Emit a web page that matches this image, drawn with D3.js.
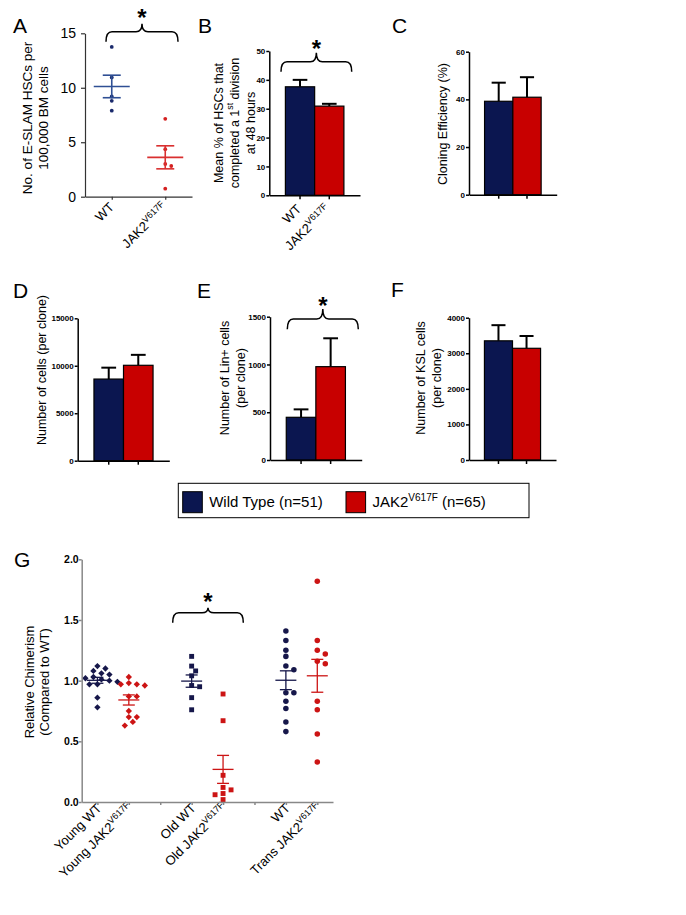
<!DOCTYPE html>
<html>
<head>
<meta charset="utf-8">
<script src="https://cdn.jsdelivr.net/npm/d3@7"></script>
<style>
	body { margin: 0; background: #fff; }
	text { font-family: 'Liberation Sans', Arial, sans-serif; fill: #000; }
</style>
</head>
<body>
<div id="chart"></div>
<script>
// groups for panels A-F
const groupsAB = ['WT', 'JAK2']

// A: E-SLAM HSCs per 100,000 BM cells (individual mice)
const eslamWT = [13.75, 10.95, 9.2, 8.8, 7.9]
const eslamJAK2 = [7.15, 4.36, 3.0, 2.82, 0.74]

// B: % HSCs completing 1st division at 48 h
const divisionMean = [37.6, 30.9]
const divisionErr = [2.4, 0.8]

// C: cloning efficiency (%)
const cloningMean = [39.2, 40.9]
const cloningErr = [7.8, 8.4]

// D: cells per clone
const cellsMean = [8600, 10050]
const cellsErr = [1200, 1100]

// E: Lin+ cells per clone
const linMean = [447, 977]
const linErr = [83, 297]

// F: KSL cells per clone
const kslMean = [3350, 3140]
const kslErr = [440, 345]

// G: relative chimerism
const gCategories = ['Young WT', 'Young JAK2', 'gap1', 'Old WT', 'Old JAK2', 'gap2', 'WT', 'Trans JAK2']
const youngWT = [1.12, 1.10, 1.08, 1.06, 1.05, 1.03, 1.02, 1.01, 1.00, 0.99, 0.97, 0.97, 0.86, 0.78]
const youngJAK2 = [1.03, 0.98, 0.97, 0.97, 0.96, 0.87, 0.87, 0.75, 0.70, 0.70, 0.66, 0.63]
const oldWT = [1.20, 1.12, 1.08, 1.04, 0.96, 0.95, 0.86, 0.76]
const oldJAK2 = [0.89, 0.67, 0.22, 0.12, 0.10, 0.07, 0.06, 0.02]
const transWT = [1.41, 1.33, 1.25, 1.20, 1.12, 1.09, 0.90, 0.90, 0.83, 0.77, 0.66, 0.58]
const transJAK2 = [1.82, 1.33, 1.25, 1.22, 1.16, 1.14, 0.83, 0.76, 0.56, 0.33]

const navy = '#0b1650'
const red = '#c80000'
const barColors = [navy, red]
const FONT = "'Liberation Sans', Arial, sans-serif"

const svg = d3.select('#chart').append('svg').attr('width', 686).attr('height', 915)
svg.append('rect').attr('width', 686).attr('height', 915).attr('fill', '#fff')

const sup = (s) => ({ sup: s })
const JAK2 = ['JAK2', sup('V617F')]

function richText(sel, parts, supSize) {
	let shift = 0
	parts.forEach((p) => {
		if (typeof p === 'string') {
			sel.append('tspan').attr('dy', shift).text(p)
			shift = 0
		} else {
			shift = supSize * 0.55
			sel.append('tspan').attr('font-size', supSize).attr('dy', -shift).text(p.sup)
		}
	})
}

function panelLabel(t, x, y) {
	svg.append('text').attr('x', x).attr('y', y).attr('font-size', 21).text(t)
}

// rotated multi-line axis title, one centre x per line
function yTitle(lines, xs, cy, fs) {
	lines.forEach((parts, i) => {
		const t = svg
			.append('text')
			.attr('transform', `translate(${xs[i]},${cy}) rotate(-90)`)
			.attr('text-anchor', 'middle')
			.attr('dominant-baseline', 'central')
			.attr('font-size', fs)
		richText(t, parts, fs * 0.7)
	})
}

function rotLabel(x, y, parts, fs) {
	const t = svg
		.append('text')
		.attr('transform', `translate(${x},${y}) rotate(-45)`)
		.attr('text-anchor', 'end')
		.attr('font-size', fs)
	richText(t, parts, fs * 0.7)
}

function bracket(x1, x2, yTop, yEnd, peak, starY) {
	const xm = (x1 + x2) / 2
	const r = 6
	svg
		.append('path')
		.attr(
			'd',
			`M${x1},${yEnd} Q${x1},${yTop} ${x1 + r},${yTop} L${xm - r},${yTop} Q${xm},${yTop} ${xm},${yTop - peak}` +
				` Q${xm},${yTop} ${xm + r},${yTop} L${x2 - r},${yTop} Q${x2},${yTop} ${x2},${yEnd}`
		)
		.attr('fill', 'none')
		.attr('stroke', '#000')
		.attr('stroke-width', 1.5)
	svg
		.append('text')
		.attr('x', xm)
		.attr('y', starY + 13)
		.attr('text-anchor', 'middle')
		.attr('font-size', 24)
		.attr('font-weight', 'bold')
		.text('*')
}

function styleAxis(g, color, width) {
	g.selectAll('path, line').attr('stroke', color).attr('stroke-width', width)
}

function swarm(values, y, minDist, step) {
	const placed = []
	return values.map((v) => {
		const py = y(v)
		let dx = 0
		for (let i = 0; i < 40; i++) {
			const m = Math.ceil(i / 2)
			dx = (i % 2 ? m : -m) * step
			if (placed.every((p) => Math.hypot(dx - p.dx, py - p.py) >= minDist)) break
		}
		placed.push({ dx, py })
		return { v, dx, py }
	})
}

// mean line with SEM whiskers
function errBars(cx, vals, y, halfMean, halfCap, color, w) {
	const m = d3.mean(vals)
	const sem = d3.deviation(vals) / Math.sqrt(vals.length)
	const ln = (x1, y1, x2, y2) =>
		svg.append('line').attr('x1', x1).attr('y1', y1).attr('x2', x2).attr('y2', y2).attr('stroke', color).attr('stroke-width', w)
	ln(cx - halfMean, y(m), cx + halfMean, y(m))
	ln(cx, y(m + sem), cx, y(m - sem))
	ln(cx - halfCap, y(m + sem), cx + halfCap, y(m + sem))
	ln(cx - halfCap, y(m - sem), cx + halfCap, y(m - sem))
}

function barPanel(o) {
	const x = d3.scaleBand().domain(groupsAB).range([o.x0, o.x1]).paddingInner(0).paddingOuter(0.55)
	const y = d3.scaleLinear().domain([0, o.max]).range([o.yBot, o.yTop])

	const g = svg.append('g')
	const cap = x.bandwidth() * 0.25
	const cx = (i) => x(groupsAB[i]) + x.bandwidth() / 2
	g.selectAll('line.err')
		.data(o.means)
		.join('line')
		.attr('class', 'err')
		.attr('x1', (d, i) => cx(i))
		.attr('x2', (d, i) => cx(i))
		.attr('y1', (d) => y(d))
		.attr('y2', (d, i) => y(d + o.errs[i]))
		.attr('stroke', '#000')
		.attr('stroke-width', 2)
	g.selectAll('line.cap')
		.data(o.means)
		.join('line')
		.attr('class', 'cap')
		.attr('x1', (d, i) => cx(i) - cap)
		.attr('x2', (d, i) => cx(i) + cap)
		.attr('y1', (d, i) => y(d + o.errs[i]))
		.attr('y2', (d, i) => y(d + o.errs[i]))
		.attr('stroke', '#000')
		.attr('stroke-width', 2)
	g.selectAll('rect')
		.data(o.means)
		.join('rect')
		.attr('x', (d, i) => x(groupsAB[i]))
		.attr('y', (d) => y(d))
		.attr('width', x.bandwidth())
		.attr('height', (d) => y(0) - y(d))
		.attr('fill', (d, i) => barColors[i])
		.attr('stroke', '#000')
		.attr('stroke-width', 1.2)

	const ya = svg
		.append('g')
		.attr('transform', `translate(${o.x0},0)`)
		.call(d3.axisLeft(y).tickValues(o.ticks).tickFormat(d3.format('d')).tickSize(3).tickSizeOuter(0).tickPadding(1))
	styleAxis(ya, '#000', 1.5)
	ya.selectAll('text').attr('font-size', 8).attr('font-weight', 'bold').style('font-family', FONT)

	const xa = svg
		.append('g')
		.attr('transform', `translate(0,${o.yBot})`)
		.call(d3.axisBottom(x).tickSize(4).tickSizeOuter(0).tickFormat(''))
	styleAxis(xa, '#000', 1.5)
	return x
}

// ---------- Panel A ----------
panelLabel('A', 13, 33)
{
	const y = d3.scaleLinear().domain([0, 15]).range([196.7, 33.3])
	const x = d3.scalePoint().domain(groupsAB).range([85, 192]).padding(0.5)
	const ptCol = ['#1a2a6c', '#d42020']
	const lineCol = ['#2f4f94', '#d93030']
	;[eslamWT, eslamJAK2].forEach((vals, gi) => {
		const cx = x(groupsAB[gi])
		swarm(vals, y, 4, 3).forEach((p) => {
			svg.append('circle').attr('cx', cx + p.dx).attr('cy', p.py).attr('r', 1.9).attr('fill', ptCol[gi])
		})
		errBars(cx, vals, y, 18, 9, lineCol[gi], 1.6)
	})
	const ya = svg
		.append('g')
		.attr('transform', 'translate(85,0)')
		.call(d3.axisLeft(y).tickValues([0, 5, 10, 15]).tickSize(4).tickSizeOuter(0).tickPadding(5))
	styleAxis(ya, '#333', 1.2)
	ya.selectAll('text').attr('font-size', 14).style('font-family', FONT)
	const xa = svg
		.append('g')
		.attr('transform', 'translate(0,196.7)')
		.call(d3.axisBottom(x).tickSize(3).tickSizeOuter(0).tickFormat(''))
	styleAxis(xa, '#333', 1.2)
	rotLabel(x('WT') + 3, 208, ['WT'], 13)
	rotLabel(x('JAK2') + 3, 208, JAK2, 13)
	yTitle([['No. of E-SLAM HSCs per'], ['100,000 BM cells']], [27, 43], 118, 13.5)
	bracket(106, 178, 31.7, 41.7, 8, 12.5)
}

// ---------- Panel B ----------
panelLabel('B', 198, 33)
{
	const x = barPanel({ x0: 269.3, x1: 360, yTop: 51, yBot: 195.3, max: 50, ticks: [0, 10, 20, 30, 40, 50], means: divisionMean, errs: divisionErr })
	rotLabel(x('WT') + x.bandwidth() / 2 + 2, 210, ['WT'], 13)
	rotLabel(x('JAK2') + x.bandwidth() / 2 + 2, 210, JAK2, 13)
	yTitle([['Mean % of HSCs that'], ['completed a 1', sup('st'), ' division'], ['at 48 hours']], [219, 235, 251], 123, 12.5)
	bracket(281, 351.7, 61.7, 71.7, 9, 44)
}

// ---------- Panel C ----------
panelLabel('C', 392, 33)
barPanel({ x0: 469, x1: 556.7, yTop: 51.7, yBot: 194.7, max: 60, ticks: [0, 20, 40, 60], means: cloningMean, errs: cloningErr })
yTitle([['Cloning Efficiency (%)']], [443], 124, 12.5)

// ---------- Panel D ----------
panelLabel('D', 13, 298)
barPanel({ x0: 77.7, x1: 169.3, yTop: 318.3, yBot: 460.7, max: 15000, ticks: [0, 5000, 10000, 15000], means: cellsMean, errs: cellsErr })
yTitle([['Number of cells (per clone)']], [42], 370, 12.5)

// ---------- Panel E ----------
panelLabel('E', 197, 298)
barPanel({ x0: 270, x1: 361.7, yTop: 316.7, yBot: 460, max: 1500, ticks: [0, 500, 1000, 1500], means: linMean, errs: linErr })
yTitle([['Number of Lin+ cells'], ['(per clone)']], [225, 241], 378, 12.5)
bracket(287.3, 358.3, 319, 329.3, 10, 300.8)

// ---------- Panel F ----------
panelLabel('F', 391, 297)
barPanel({ x0: 469, x1: 556, yTop: 317.7, yBot: 460, max: 4000, ticks: [0, 1000, 2000, 3000, 4000], means: kslMean, errs: kslErr })
yTitle([['Number of KSL cells'], ['(per clone)']], [421, 437], 378, 12.5)

// ---------- Legend ----------
{
	svg.append('rect').attr('x', 178.3).attr('y', 483.3).attr('width', 350.7).attr('height', 34.4).attr('fill', 'none').attr('stroke', '#000').attr('stroke-width', 1)
	const items = [
		{ x: 182.7, color: navy, parts: ['Wild Type (n=51)'] },
		{ x: 346, color: red, parts: ['JAK2', sup('V617F'), ' (n=65)'] },
	]
	items.forEach((it) => {
		svg.append('rect').attr('x', it.x).attr('y', 491.7).attr('width', 19.6).attr('height', 21).attr('fill', it.color).attr('stroke', '#000').attr('stroke-width', 1)
		const t = svg.append('text').attr('x', it.x + 26.5).attr('y', 506.5).attr('font-size', 15)
		richText(t, it.parts, 10)
	})
}

// ---------- Panel G ----------
panelLabel('G', 14, 567)
{
	const gNavy = '#16174a'
	const gRed = '#cc1414'
	const y = d3.scaleLinear().domain([0, 2]).range([802, 559.3])
	const x = d3.scalePoint().domain(gCategories).range([81.7, 333]).padding(0.5)
	const groups = [
		{ cat: 'Young WT', values: youngWT, shape: 'diamond', color: gNavy, label: ['Young WT'] },
		{ cat: 'Young JAK2', values: youngJAK2, shape: 'diamond', color: gRed, label: ['Young ', ...JAK2] },
		{ cat: 'Old WT', values: oldWT, shape: 'square', color: gNavy, label: ['Old WT'] },
		{ cat: 'Old JAK2', values: oldJAK2, shape: 'square', color: gRed, label: ['Old ', ...JAK2] },
		{ cat: 'WT', values: transWT, shape: 'circle', color: gNavy, label: ['WT'] },
		{ cat: 'Trans JAK2', values: transJAK2, shape: 'circle', color: gRed, label: ['Trans ', ...JAK2] },
	]
	const sym = {
		diamond: d3.symbol(d3.symbolSquare, 20)(),
		square: d3.symbol(d3.symbolSquare, 24)(),
		circle: d3.symbol(d3.symbolCircle, 24)(),
	}
	groups.forEach((gr) => {
		const cx = x(gr.cat)
		swarm(gr.values, y, 6, 4).forEach((p) => {
			svg
				.append('path')
				.attr('d', sym[gr.shape])
				.attr('transform', `translate(${cx + p.dx},${p.py})` + (gr.shape === 'diamond' ? ' rotate(45)' : ''))
				.attr('fill', gr.color)
		})
		errBars(cx, gr.values, y, 10.5, 6, gr.color, 1.3)
		rotLabel(cx + 5, 809, gr.label, 13)
	})
	const ya = svg
		.append('g')
		.attr('transform', 'translate(81.7,0)')
		.call(d3.axisLeft(y).tickValues([0, 0.5, 1, 1.5, 2]).tickFormat(d3.format('.1f')).tickSize(3).tickSizeOuter(0).tickPadding(0))
	styleAxis(ya, '#888', 1.5)
	ya.selectAll('text').attr('font-size', 10.5).attr('font-weight', 'bold').style('font-family', FONT)
	const xa = svg
		.append('g')
		.attr('transform', 'translate(0,802)')
		.call(d3.axisBottom(x).tickSize(3).tickSizeOuter(0).tickFormat(''))
	styleAxis(xa, '#888', 1.5)
	yTitle([['Relative Chimerism'], ['(Compared to WT)']], [29, 44], 682, 13)
	bracket(172.7, 243.3, 612.7, 622.7, 5, 596.7)
}
</script>
</body>
</html>
